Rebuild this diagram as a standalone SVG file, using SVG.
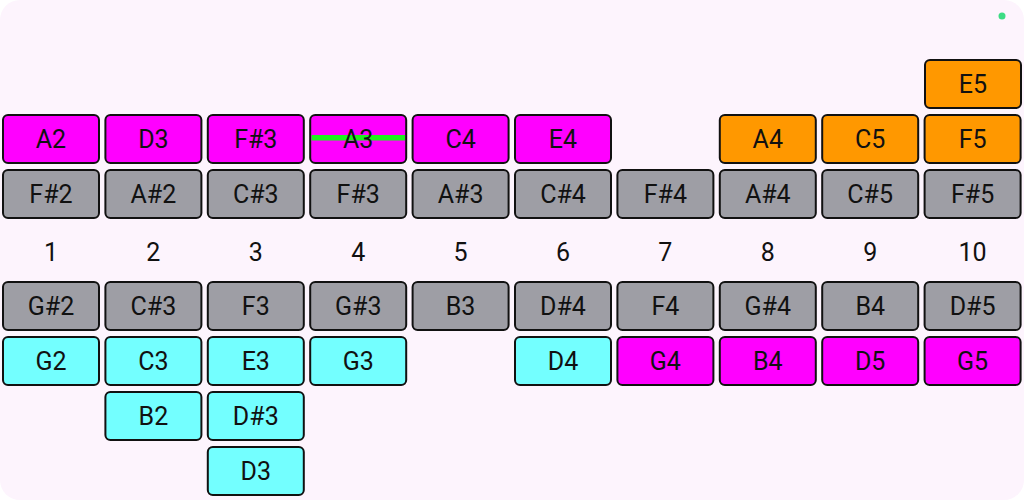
<svg xmlns="http://www.w3.org/2000/svg" width="1024" height="500" viewBox="0 0 1024 500">
<style>
.k{stroke:#111;stroke-width:2}
.m{fill:#ff00ff}.g{fill:#9e9ea5}.c{fill:#73ffff}.o{fill:#ff9800}
text{font-family:Roboto,"Liberation Sans",sans-serif;font-size:25px;fill:#111;text-anchor:middle}
</style>
<rect x="0" y="0" width="1024" height="500" fill="#ffffff"/>
<rect x="0" y="0" width="1024" height="500" rx="20" fill="#fdf4fd"/>
<circle cx="1002" cy="16" r="3.5" fill="#3ddc84"/>
<g id="row-top">
<g id="E5"><rect class="k o" x="925" y="60" width="96" height="48" rx="5"/><text x="973" y="93">E5</text></g>
</g>
<g id="row-upper">
<g id="A2"><rect class="k m" x="3" y="115" width="96" height="48" rx="5"/><text x="51" y="148">A2</text></g>
<g id="D3u"><rect class="k m" x="105.4" y="115" width="96" height="48" rx="5"/><text x="153.4" y="148">D3</text></g>
<g id="Fs3u"><rect class="k m" x="207.8" y="115" width="96" height="48" rx="5"/><text x="255.8" y="148">F#3</text></g>
<g id="A3"><rect class="k m" x="310.2" y="115" width="96" height="48" rx="5"/><rect x="311.5" y="135" width="93.5" height="5.5" fill="#1ef01e"/><text x="358.2" y="148">A3</text></g>
<g id="C4"><rect class="k m" x="412.6" y="115" width="96" height="48" rx="5"/><text x="460.6" y="148">C4</text></g>
<g id="E4"><rect class="k m" x="515" y="115" width="96" height="48" rx="5"/><text x="563" y="148">E4</text></g>
<g id="A4"><rect class="k o" x="719.8" y="115" width="96" height="48" rx="5"/><text x="767.8" y="148">A4</text></g>
<g id="C5"><rect class="k o" x="822.2" y="115" width="96" height="48" rx="5"/><text x="870.2" y="148">C5</text></g>
<g id="F5"><rect class="k o" x="924.6" y="115" width="96" height="48" rx="5"/><text x="972.6" y="148">F5</text></g>
</g>
<g id="row-gray1">
<g id="Fs2"><rect class="k g" x="3" y="170" width="96" height="48" rx="5"/><text x="51" y="203">F#2</text></g>
<g id="As2"><rect class="k g" x="105.4" y="170" width="96" height="48" rx="5"/><text x="153.4" y="203">A#2</text></g>
<g id="Cs3"><rect class="k g" x="207.8" y="170" width="96" height="48" rx="5"/><text x="255.8" y="203">C#3</text></g>
<g id="Fs3"><rect class="k g" x="310.2" y="170" width="96" height="48" rx="5"/><text x="358.2" y="203">F#3</text></g>
<g id="As3"><rect class="k g" x="412.6" y="170" width="96" height="48" rx="5"/><text x="460.6" y="203">A#3</text></g>
<g id="Cs4"><rect class="k g" x="515" y="170" width="96" height="48" rx="5"/><text x="563" y="203">C#4</text></g>
<g id="Fs4"><rect class="k g" x="617.4" y="170" width="96" height="48" rx="5"/><text x="665.4" y="203">F#4</text></g>
<g id="As4"><rect class="k g" x="719.8" y="170" width="96" height="48" rx="5"/><text x="767.8" y="203">A#4</text></g>
<g id="Cs5"><rect class="k g" x="822.2" y="170" width="96" height="48" rx="5"/><text x="870.2" y="203">C#5</text></g>
<g id="Fs5"><rect class="k g" x="924.6" y="170" width="96" height="48" rx="5"/><text x="972.6" y="203">F#5</text></g>
</g>
<g id="numbers">
<text x="51" y="260.5">1</text><text x="153.4" y="260.5">2</text><text x="255.8" y="260.5">3</text><text x="358.2" y="260.5">4</text><text x="460.6" y="260.5">5</text><text x="563" y="260.5">6</text><text x="665.4" y="260.5">7</text><text x="767.8" y="260.5">8</text><text x="870.2" y="260.5">9</text><text x="972.6" y="260.5">10</text>
</g>
<g id="row-gray2">
<g id="Gs2"><rect class="k g" x="3" y="282" width="96" height="48" rx="5"/><text x="51" y="315">G#2</text></g>
<g id="Cs3b"><rect class="k g" x="105.4" y="282" width="96" height="48" rx="5"/><text x="153.4" y="315">C#3</text></g>
<g id="F3"><rect class="k g" x="207.8" y="282" width="96" height="48" rx="5"/><text x="255.8" y="315">F3</text></g>
<g id="Gs3"><rect class="k g" x="310.2" y="282" width="96" height="48" rx="5"/><text x="358.2" y="315">G#3</text></g>
<g id="B3"><rect class="k g" x="412.6" y="282" width="96" height="48" rx="5"/><text x="460.6" y="315">B3</text></g>
<g id="Ds4"><rect class="k g" x="515" y="282" width="96" height="48" rx="5"/><text x="563" y="315">D#4</text></g>
<g id="F4"><rect class="k g" x="617.4" y="282" width="96" height="48" rx="5"/><text x="665.4" y="315">F4</text></g>
<g id="Gs4"><rect class="k g" x="719.8" y="282" width="96" height="48" rx="5"/><text x="767.8" y="315">G#4</text></g>
<g id="B4g"><rect class="k g" x="822.2" y="282" width="96" height="48" rx="5"/><text x="870.2" y="315">B4</text></g>
<g id="Ds5"><rect class="k g" x="924.6" y="282" width="96" height="48" rx="5"/><text x="972.6" y="315">D#5</text></g>
</g>
<g id="row-lower">
<g id="G2"><rect class="k c" x="3" y="337" width="96" height="48" rx="5"/><text x="51" y="370">G2</text></g>
<g id="C3"><rect class="k c" x="105.4" y="337" width="96" height="48" rx="5"/><text x="153.4" y="370">C3</text></g>
<g id="E3"><rect class="k c" x="207.8" y="337" width="96" height="48" rx="5"/><text x="255.8" y="370">E3</text></g>
<g id="G3"><rect class="k c" x="310.2" y="337" width="96" height="48" rx="5"/><text x="358.2" y="370">G3</text></g>
<g id="D4"><rect class="k c" x="515" y="337" width="96" height="48" rx="5"/><text x="563" y="370">D4</text></g>
<g id="G4"><rect class="k m" x="617.4" y="337" width="96" height="48" rx="5"/><text x="665.4" y="370">G4</text></g>
<g id="B4"><rect class="k m" x="719.8" y="337" width="96" height="48" rx="5"/><text x="767.8" y="370">B4</text></g>
<g id="D5"><rect class="k m" x="822.2" y="337" width="96" height="48" rx="5"/><text x="870.2" y="370">D5</text></g>
<g id="G5"><rect class="k m" x="924.6" y="337" width="96" height="48" rx="5"/><text x="972.6" y="370">G5</text></g>
</g>
<g id="row-bottom">
<g id="B2"><rect class="k c" x="105.4" y="392" width="96" height="48" rx="5"/><text x="153.4" y="425">B2</text></g>
<g id="Ds3"><rect class="k c" x="207.8" y="392" width="96" height="48" rx="5"/><text x="255.8" y="425">D#3</text></g>
<g id="D3b"><rect class="k c" x="207.8" y="447" width="96" height="48" rx="5"/><text x="255.8" y="480">D3</text></g>
</g>
<g id="connectors"></g>
</svg>
